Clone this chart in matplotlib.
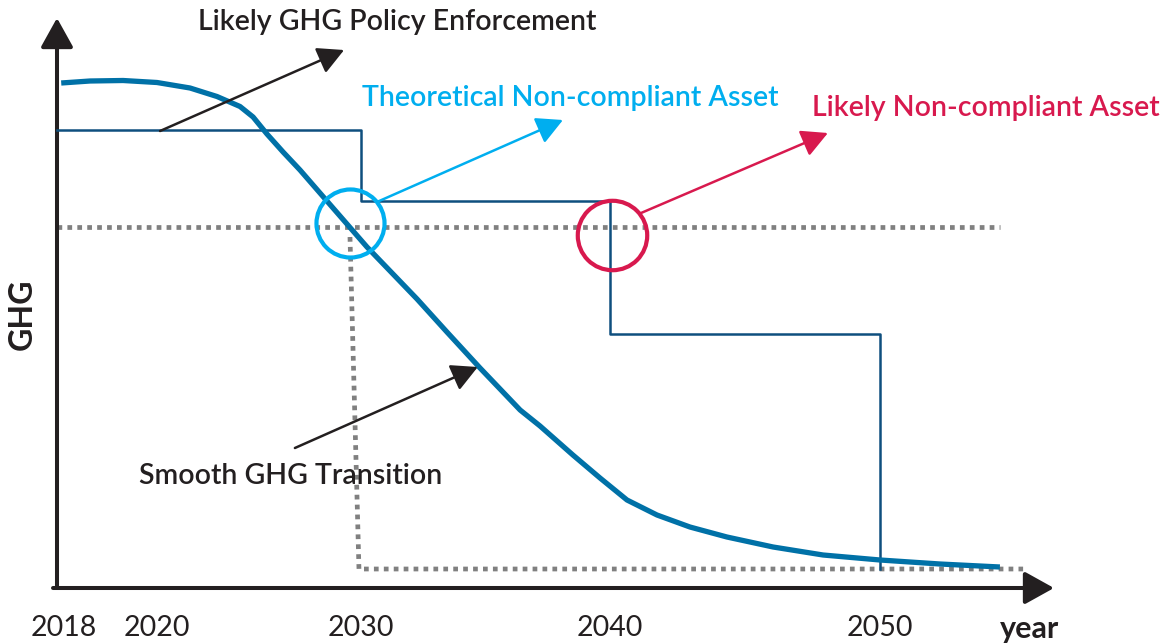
import numpy as np
import matplotlib
matplotlib.use("Agg")
import matplotlib.pyplot as plt
from matplotlib.scale import FuncScale

plt.rcParams['font.family'] = ['Lato', 'DejaVu Sans']

# ---------------- data ----------------
tick_years = [2018, 2020, 2030, 2040, 2050]
tick_labels = ["2018", "2020", "2030", "2040", "2050"]

# smooth GHG transition curve (year, GHG index)
curve_years = [2017.94, 2018.56, 2019.27, 2020.00, 2021.62, 2022.94, 2024.07, 2024.71,
               2025.39, 2026.18, 2027.01, 2028.33, 2030.24, 2032.25, 2033.45, 2034.78,
               2036.39, 2037.19, 2038.51, 2039.60, 2040.63, 2041.74, 2042.96, 2044.33,
               2046.04, 2047.89, 2050.00, 2052.22, 2054.44]
curve_ghg = [101.0, 101.4, 101.5, 101.1, 100.0, 98.3, 96.3, 94.2,
             90.8, 87.2, 83.6, 77.4, 68.2, 57.8, 51.2, 44.0,
             35.6, 32.4, 26.6, 22.0, 17.6, 14.6, 12.2, 10.2,
             8.2, 6.6, 5.6, 4.8, 4.2]

# likely GHG policy enforcement (step limits)
policy_years = [2017.85, 2030, 2040, 2050]
policy_ghg = [91.6, 77.4, 50.8, 3.8]

# theoretical target path (dotted)
target_level_years = [2017.85, 2054.44]
target_level_ghg = [72.2, 72.2]
target_drop_years = [2029.46, 2029.90, 2055.30]
target_drop_ghg = [70.2, 3.8, 3.8]

# highlighted points
theo_pt = (2029.46, 73.0)
likely_pt = (2040.07, 70.6)

# annotation arrows (tail, head)
arrow_policy = ((2020.15, 91.4), (2029.17, 107.6))
arrow_theo = ((2030.64, 77.2), (2038.11, 93.6))
arrow_likely = ((2041.15, 75.0), (2048.07, 91.0))
arrow_smooth = ((2026.76, 28.0), (2034.69, 44.2))

# ---------------- non-uniform year scale ----------------
kx = np.array([2018., 2020., 2030., 2040., 2050.])
kp = np.array([64., 157., 361., 610., 880.])


def fwd(x):
    x = np.asarray(x, dtype=float)
    y = np.interp(x, kx, kp)
    s0 = (kp[1] - kp[0]) / (kx[1] - kx[0])
    s1 = (kp[-1] - kp[-2]) / (kx[-1] - kx[-2])
    y = np.where(x < kx[0], kp[0] + (x - kx[0]) * s0, y)
    y = np.where(x > kx[-1], kp[-1] + (x - kx[-1]) * s1, y)
    return y


def inv(p):
    p = np.asarray(p, dtype=float)
    x = np.interp(p, kp, kx)
    s0 = (kx[1] - kx[0]) / (kp[1] - kp[0])
    s1 = (kx[-1] - kx[-2]) / (kp[-1] - kp[-2])
    x = np.where(p < kp[0], kx[0] + (p - kp[0]) * s0, x)
    x = np.where(p > kp[-1], kx[-1] + (p - kp[-1]) * s1, x)
    return x


W, H = 1171, 644
fig = plt.figure(figsize=(W / 100, H / 100), dpi=100)
ax_l, ax_r, ax_b, ax_t = 57, 1054, 588, 18
ax = fig.add_axes([ax_l / W, (H - ax_b) / H, (ax_r - ax_l) / W, (ax_b - ax_t) / H])
ax.set_xscale(FuncScale(ax, (fwd, inv)))
ax.set_xlim(float(inv(ax_l)), float(inv(ax_r)))
ax.set_ylim(0, 114)
for s in ax.spines.values():
    s.set_visible(False)
ax.set_yticks([])
ax.set_xticks(tick_years)
ax.set_xticklabels(tick_labels, fontsize=20.5, color='#231f20')
ax.tick_params(axis='x', length=0, pad=19.5)
ax.minorticks_off()

dark = '#231f20'
blue = '#0071a7'
step_c = '#0f4f7e'
gray = '#808080'
cyan = '#00aeef'
red = '#d8194e'

# axis arrows
ax.annotate('', xy=(0, 1), xytext=(0, 0), xycoords='axes fraction',
            arrowprops=dict(arrowstyle='-|>,head_length=0.9,head_width=0.5', lw=2.9,
                            color=dark, mutation_scale=20, shrinkA=0, shrinkB=0))
ax.annotate('', xy=(1, 0), xytext=(-0.004, 0), xycoords='axes fraction',
            arrowprops=dict(arrowstyle='-|>,head_length=0.9,head_width=0.5', lw=2.9,
                            color=dark, mutation_scale=20, shrinkA=0, shrinkB=0))

# dotted target
ax.plot(target_level_years, target_level_ghg, color=gray, lw=3.4,
        linestyle=(0, (1, 1.1)), dash_capstyle='butt', clip_on=False, zorder=2)
ax.plot(target_drop_years, target_drop_ghg, color=gray, lw=3.4,
        linestyle=(0, (1, 1.1)), dash_capstyle='butt', clip_on=False, zorder=2)

# policy step
ax.plot(policy_years, policy_ghg, drawstyle='steps-post', color=step_c, lw=1.8,
        clip_on=False, zorder=3)

# smooth curve
ax.plot(curve_years, curve_ghg, color=blue, lw=3.8, solid_capstyle='butt',
        solid_joinstyle='round', clip_on=False, zorder=4)

# circles
ax.plot([theo_pt[0]], [theo_pt[1]], marker='o', ms=49, mfc='none', mec=cyan, mew=3.0,
        clip_on=False, zorder=5)
ax.plot([likely_pt[0]], [likely_pt[1]], marker='o', ms=50, mfc='none', mec=red, mew=3.0,
        clip_on=False, zorder=5)


def arrow(tail, head, color):
    ax.annotate('', xy=head, xytext=tail, xycoords='data', textcoords='data',
                arrowprops=dict(arrowstyle='-|>,head_length=0.8,head_width=0.42', lw=1.8,
                                color=color, mutation_scale=20, shrinkA=0, shrinkB=0),
                annotation_clip=False, zorder=6)


arrow(*arrow_policy, dark)
arrow(*arrow_theo, cyan)
arrow(*arrow_likely, red)
arrow(*arrow_smooth, dark)

# texts
fs = 20.5
ax.text(2022.01, 113.2, "Likely GHG Policy Enforcement", fontsize=fs, fontweight='semibold',
        color=dark, ha='left', va='center')
ax.text(2030.04, 98.0, "Theoretical Non-compliant Asset", fontsize=fs, fontweight='semibold',
        color=cyan, ha='left', va='center')
ax.text(2047.48, 96.0, "Likely Non-compliant Asset", fontsize=fs, fontweight='semibold',
        color=red, ha='left', va='center')
ax.text(2019.61, 22.4, "Smooth GHG Transition", fontsize=fs, fontweight='semibold',
        color=dark, ha='left', va='center')

ax.set_xlabel('year', fontsize=22, fontweight='bold', color=dark, va='top')
ax.xaxis.set_label_coords((1030 - ax_l) / (ax_r - ax_l), -27 / (ax_b - ax_t))
ax.set_ylabel('GHG', fontsize=23, fontweight='bold', color=dark, va='center')
ax.yaxis.set_label_coords((22 - ax_l) / (ax_r - ax_l), (ax_b - 314) / (ax_b - ax_t))

fig.savefig('out.png', dpi=100)
